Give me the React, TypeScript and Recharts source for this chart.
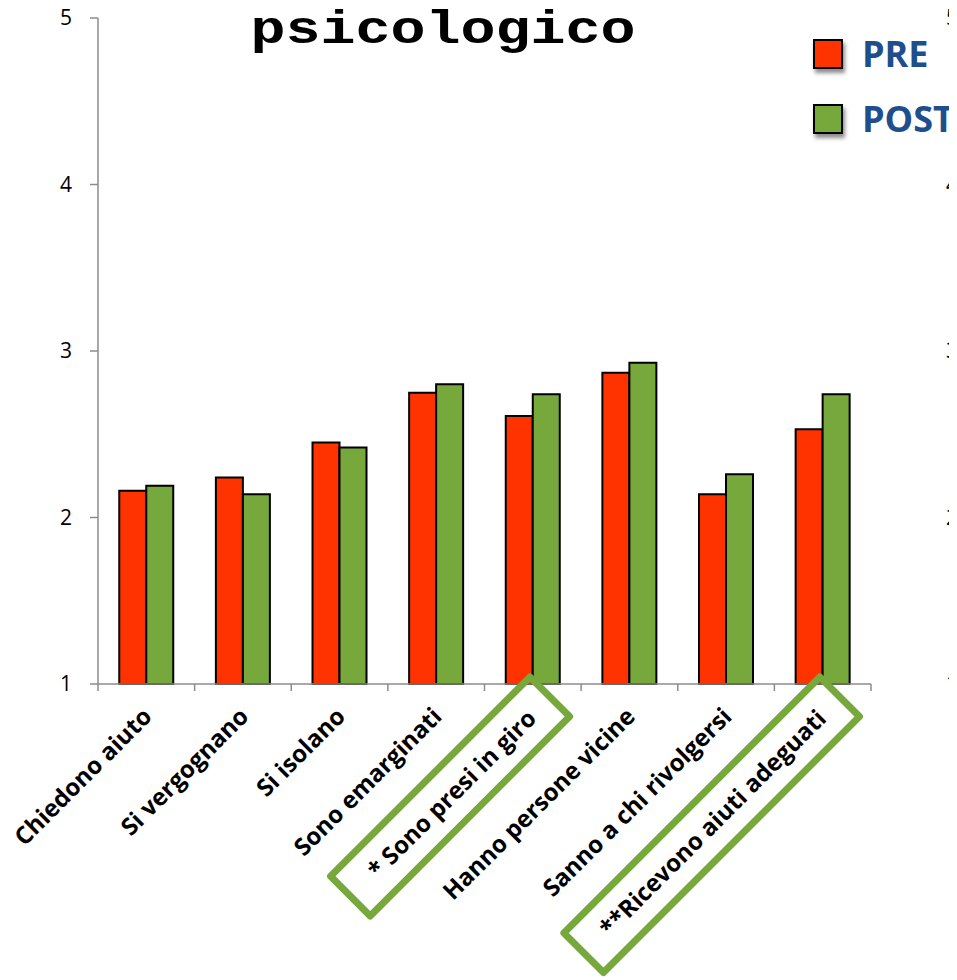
import React from 'react';
import { BarChart, Bar, XAxis, YAxis, Legend } from 'recharts';

const categories = [
  'Chiedono aiuto',
  'Si vergognano',
  'Si isolano',
  'Sono emarginati',
  '* Sono presi in giro',
  'Hanno persone vicine',
  'Sanno a chi rivolgersi',
  '**Ricevono aiuti adeguati',
];
const preValues = [2.16, 2.24, 2.45, 2.75, 2.61, 2.87, 2.14, 2.53];
const postValues = [2.19, 2.14, 2.42, 2.8, 2.74, 2.93, 2.26, 2.74];
const yTicks = [1, 2, 3, 4, 5];
const highlighted = ['* Sono presi in giro', '**Ricevono aiuti adeguati'];

const data = categories.map((name, i) => ({ name, pre: preValues[i], post: postValues[i] }));

const RED = '#FF3300';
const GREEN = '#77A83C';
const AXIS = '#8c8c8c';
const FONT = '"Open Sans", "Liberation Sans", sans-serif';
const BAND = 773 / categories.length;

function CategoryTick(props: any) {
  const { x, y, payload, index } = props;
  const label: string = payload.value;
  const boxed = highlighted.includes(label);
  const boxLen = label.startsWith('**') ? 362 : 282;
  return (
    <g transform={`translate(${x},${y})`}>
      <line x1={-BAND / 2} x2={-BAND / 2} y1={0} y2={7} stroke={AXIS} strokeWidth={1.5} />
      {index === categories.length - 1 && (
        <line x1={BAND / 2} x2={BAND / 2} y1={0} y2={7} stroke={AXIS} strokeWidth={1.5} />
      )}
      <g transform="rotate(-45)">
        {boxed && (
          <rect
            x={-boxLen + 3}
            y={-7}
            width={boxLen}
            height={56}
            fill="none"
            stroke={GREEN}
            strokeWidth={7}
            strokeLinejoin="round"
          />
        )}
        <text
          x={boxed ? -22 : -19}
          y={29}
          textAnchor="end"
          fontFamily={FONT}
          fontWeight="bold"
          fontSize={24}
          fill="#000"
        >
          {label}
        </text>
      </g>
    </g>
  );
}

// left tick label plus the cut-off labels of the neighbouring chart at the right edge
function ValueTick(props: any) {
  const { x, y, payload } = props;
  return (
    <g>
      <text x={x} y={y} dy="0.35em" textAnchor="end" fontFamily={FONT} fontSize={21} fill="#000">
        {payload.value}
      </text>
      <text x={938} y={y} dy="0.35em" textAnchor="start" fontFamily={FONT} fontSize={21} fill="#000">
        {payload.value}
      </text>
    </g>
  );
}

function LegendBox() {
  const rows = [
    { label: 'PRE', color: RED },
    { label: 'POST', color: GREEN },
  ];
  return (
    <div>
      {rows.map((r) => (
        <div key={r.label} style={{ display: 'flex', alignItems: 'center', height: 65 }}>
          <div
            style={{
              width: 26,
              height: 26,
              background: r.color,
              border: '2px solid #000',
              boxShadow: '2px 4px 4px rgba(0,0,0,0.45)',
              marginRight: 19,
            }}
          />
          <span style={{ fontFamily: FONT, fontWeight: 'bold', fontSize: 36, color: '#1F4E8C', lineHeight: 1 }}>
            {r.label}
          </span>
        </div>
      ))}
    </div>
  );
}

export default function App() {
  return (
    <div style={{ position: 'relative', width: 949, height: 972, overflow: 'hidden' }}>
      <style>{'body { overflow: hidden; }'}</style>
      <BarChart
        width={1000}
        height={972}
        data={data}
        margin={{ top: 10, right: 137, left: 0, bottom: 6 }}
        barCategoryGap="22%"
        barGap={0}
      >
        <XAxis
          dataKey="name"
          height={290}
          interval={0}
          axisLine={{ stroke: AXIS, strokeWidth: 1.5 }}
          tickLine={false}
          tickSize={0}
          tickMargin={0}
          tick={<CategoryTick />}
        />
        <YAxis
          width={90}
          domain={[1, 5]}
          ticks={yTicks}
          interval={0}
          axisLine={{ stroke: AXIS, strokeWidth: 1.5 }}
          tickLine={{ stroke: AXIS, strokeWidth: 1.5 }}
          tickSize={8}
          tickMargin={18}
          tick={<ValueTick />}
        />
        <Legend
          layout="horizontal"
          verticalAlign="middle"
          align="center"
          content={<LegendBox />}
          wrapperStyle={{ top: 13, left: 805, width: 'auto' }}
        />
        <Bar dataKey="pre" name="PRE" fill={RED} stroke="#000" strokeWidth={2} isAnimationActive={false} />
        <Bar dataKey="post" name="POST" fill={GREEN} stroke="#000" strokeWidth={2} isAnimationActive={false} />
      </BarChart>
      <svg
        width={949}
        height={80}
        style={{ position: 'absolute', left: 0, top: 0, pointerEvents: 'none' }}
      >
        <text
          x={435}
          y={35}
          textAnchor="middle"
          fontFamily='"Liberation Mono", "Courier New", monospace'
          fontWeight="bold"
          fontSize={46}
          textLength={385}
          lengthAdjust="spacingAndGlyphs"
          fill="#000"
        >
          psicologico
        </text>
      </svg>
    </div>
  );
}
